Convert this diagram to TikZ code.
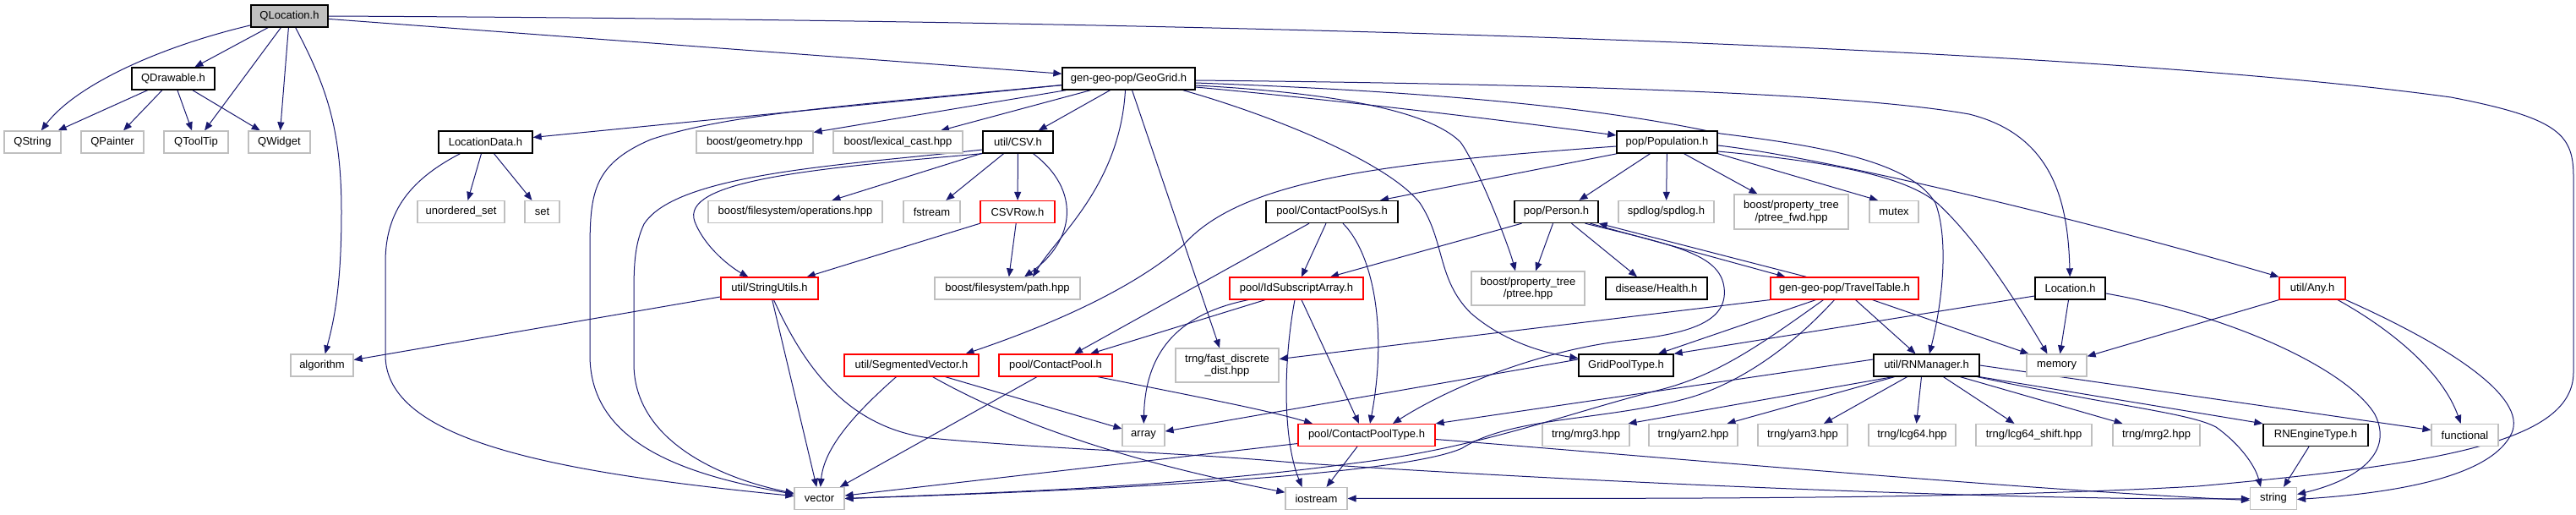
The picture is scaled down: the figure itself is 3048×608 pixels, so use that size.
\documentclass[tikz,border=0pt]{standalone}
\usepackage{fontspec}
\setmainfont{Liberation Sans}
\usetikzlibrary{arrows.meta}
\definecolor{edgeblue}{HTML}{191970}
\definecolor{extgray}{HTML}{BFBFBF}
\definecolor{truncred}{HTML}{FF0000}
\definecolor{rootgray}{HTML}{BFBFBF}
\pgfdeclarelayer{bg}
\pgfsetlayers{bg,main}
\begin{document}
\begin{tikzpicture}[x=1pt,y=-1pt,
  bx/.style={draw, rectangle, inner sep=0pt, minimum height=26pt, fill=white, align=center, font=\fontsize{13}{14.5}\selectfont},
  bdoc/.style={bx, draw=black, line width=1.35pt},
  bext/.style={bx, draw=extgray, line width=1.2pt},
  btrunc/.style={bx, draw=truncred, line width=1.2pt},
  broot/.style={bx, draw=black, line width=1.35pt, fill=rootgray},
  dep/.style={draw=edgeblue, line width=1pt, -{Triangle[length=10pt,width=8pt]}}]
\useasboundingbox (0,0) rectangle (3048,608);
% nodes
\node[broot, minimum width=91pt] (QLocation) at (342.5,19) {QLocation.h};
\node[bdoc, minimum width=98pt] (QDrawable) at (205,93) {QDrawable.h};
\node[bext, minimum width=67pt] (QString) at (38.5,168) {QString};
\node[bext, minimum width=74pt] (QPainter) at (133,168) {QPainter};
\node[bext, minimum width=76pt] (QToolTip) at (232,168) {QToolTip};
\node[bext, minimum width=73pt] (QWidget) at (330.5,168) {QWidget};
\node[bdoc, minimum width=157pt] (GeoGrid) at (1335.5,93) {gen-geo-pop/GeoGrid.h};
\node[bdoc, minimum width=111pt] (LocationData) at (574.5,168) {LocationData.h};
\node[bext, minimum width=138pt] (geometry) at (893,168) {boost/geometry.hpp};
\node[bext, minimum width=153pt] (lexical) at (1062.5,168) {boost/lexical\_cast.hpp};
\node[bdoc, minimum width=83pt] (CSV) at (1204.5,168) {util/CSV.h};
\node[bdoc, minimum width=119pt] (Population) at (1972.5,168) {pop/Population.h};
\node[bext, minimum width=103pt] (unordered) at (545.5,250.5) {unordered\_set};
\node[bext, minimum width=41pt] (set) at (641.5,250.5) {set};
\node[bext, minimum width=206pt] (operations) at (941,250.5) {boost/filesystem/operations.hpp};
\node[bext, minimum width=67pt] (fstream) at (1102.5,250.5) {fstream};
\node[btrunc, minimum width=88pt] (CSVRow) at (1204,250.5) {CSVRow.h};
\node[bdoc, minimum width=156pt] (CPSys) at (1576,250.5) {pool/ContactPoolSys.h};
\node[bdoc, minimum width=99pt] (Person) at (1841.5,250.5) {pop/Person.h};
\node[bext, minimum width=113pt] (spdlog) at (1971.5,250.5) {spdlog/spdlog.h};
\node[bext, minimum width=135pt, minimum height=41pt] (ptreefwd) at (2119.5,250.5) {boost/property\_tree\\/ptree\_fwd.hpp};
\node[bext, minimum width=58pt] (mutex) at (2241,250.5) {mutex};
\node[btrunc, minimum width=115pt] (StringUtils) at (910.5,341) {util/StringUtils.h};
\node[bext, minimum width=172pt] (path) at (1192,341) {boost/filesystem/path.hpp};
\node[btrunc, minimum width=158pt] (IdSub) at (1534,341) {pool/IdSubscriptArray.h};
\node[bext, minimum width=134pt, minimum height=40pt] (ptree) at (1808,341) {boost/property\_tree\\/ptree.hpp};
\node[bdoc, minimum width=120pt] (Health) at (1960,341) {disease/Health.h};
\node[btrunc, minimum width=175pt] (TravelTable) at (2182.5,341) {gen-geo-pop/TravelTable.h};
\node[bdoc, minimum width=83pt] (Location) at (2449.5,341) {Location.h};
\node[btrunc, minimum width=78pt] (Any) at (2736,341) {util/Any.h};
\node[bext, minimum width=74pt] (algorithm) at (381,432) {algorithm};
\node[btrunc, minimum width=159pt] (SegVec) at (1078.5,432) {util/SegmentedVector.h};
\node[btrunc, minimum width=134pt] (ContactPool) at (1249,432) {pool/ContactPool.h};
\node[bext, minimum width=122pt, minimum height=40pt] (fastdd) at (1452,432) {trng/fast\_discrete\\\_dist.hpp};
\node[bdoc, minimum width=112pt] (GridPoolType) at (1924,432) {GridPoolType.h};
\node[bdoc, minimum width=125pt] (RNManager) at (2279.5,432) {util/RNManager.h};
\node[bext, minimum width=71pt] (memory) at (2433.5,432) {memory};
\node[bext, minimum width=50pt] (array) at (1353,514.5) {array};
\node[btrunc, minimum width=162pt] (CPType) at (1617,514.5) {pool/ContactPoolType.h};
\node[bext, minimum width=103pt] (mrg3) at (1876.5,514.5) {trng/mrg3.hpp};
\node[bext, minimum width=105pt] (yarn2) at (2003.5,514.5) {trng/yarn2.hpp};
\node[bext, minimum width=106pt] (yarn3) at (2133,514.5) {trng/yarn3.hpp};
\node[bext, minimum width=103pt] (lcg64) at (2262.5,514.5) {trng/lcg64.hpp};
\node[bext, minimum width=137pt] (lcg64s) at (2406.5,514.5) {trng/lcg64\_shift.hpp};
\node[bext, minimum width=103pt] (mrg2) at (2551.5,514.5) {trng/mrg2.hpp};
\node[bdoc, minimum width=124pt] (RNEngine) at (2740,514.5) {RNEngineType.h};
\node[bext, minimum width=79pt] (functional) at (2916.5,514.5) {functional};
\node[bext, minimum width=59pt] (vector) at (969.5,589.5) {vector};
\node[bext, minimum width=73pt] (iostream) at (1557.5,589.5) {iostream};
\node[bext, minimum width=55pt] (string) at (2690,589.5) {string};
% edges
\begin{pgfonlayer}{bg}
\fill[white] (0,0) rectangle (3048,608);
% QLocation
\draw[dep] (QLocation) .. controls (190,55) and (90,100) .. (QString);
\draw[dep] (QLocation) -- (QDrawable);
\draw[dep] (QLocation) -- (QToolTip);
\draw[dep] (QLocation) -- (QWidget);
\draw[dep] (QLocation) .. controls (385,100) and (404,150) .. (404,250) .. controls (404,340) and (395,380) .. (algorithm);
\draw[dep] (QLocation) -- (GeoGrid);
\draw[dep] (QLocation.east) .. controls (1600,25) and (2500,60) .. (2900,115) .. controls (3030,140) and (3045,160) .. (3045,210) -- (3045,440) .. controls (3045,520) and (2900,548) .. (2600,575) .. controls (2300,592) and (1900,589) .. (iostream.east);
% QDrawable
\draw[dep] (QDrawable) -- (QString);
\draw[dep] (QDrawable) -- (QPainter);
\draw[dep] (QDrawable) -- (QToolTip);
\draw[dep] (QDrawable) -- (QWidget);
% GeoGrid
\draw[dep] (GeoGrid) -- (LocationData);
\draw[dep] (GeoGrid) .. controls (1000,125) and (860,135) .. (770,165) .. controls (700,195) and (698,230) .. (698,300) -- (698,420) .. controls (698,520) and (800,560) .. (vector);
\draw[dep] ([xshift=5pt]GeoGrid.south west) -- (geometry);
\draw[dep] ([xshift=-45pt]GeoGrid.south) -- (lexical);
\draw[dep] ([xshift=-22pt]GeoGrid.south) -- (CSV);
\draw[dep] ([yshift=-10pt]GeoGrid.east) .. controls (1600,120) and (1800,145) .. (Population);
\draw[dep] ([yshift=-2pt]GeoGrid.east) .. controls (1900,100) and (2200,112) .. (2330,135) .. controls (2430,160) and (2447,240) .. (Location);
\draw[dep] ([yshift=-5pt]GeoGrid.east) .. controls (1800,112) and (1950,140) .. (2036,158) .. controls (2150,172) and (2260,190) .. (2290,240) .. controls (2305,280) and (2300,350) .. (RNManager);
\draw[dep] ([xshift=-4pt]GeoGrid.south) .. controls (1325,220) and (1250,280) .. ([xshift=30pt]path.north);
\draw[dep] ([xshift=4pt]GeoGrid.south) -- ([xshift=-9pt]fastdd.north);
\draw[dep] ([yshift=-8pt]GeoGrid.east) .. controls (1620,112) and (1700,140) .. (1728,168) .. controls (1748,195) and (1785,290) .. ([xshift=-15pt]ptree.north);
\draw[dep] ([xshift=-15pt]GeoGrid.south east) .. controls (1500,135) and (1640,190) .. (1680,240) .. controls (1710,285) and (1700,330) .. (1740,370) .. controls (1780,405) and (1830,418) .. (GridPoolType);
% CSV
\draw[dep] ([yshift=-9pt]CSV.west) .. controls (1000,195) and (800,205) .. (762,265) .. controls (750,290) and (750,320) .. (750,350) -- (750,430) .. controls (750,520) and (850,565) .. (vector);
\draw[dep] (CSV.south west) .. controls (950,200) and (805,215) .. (822,262) .. controls (835,295) and (868,318) .. (StringUtils);
\draw[dep] (CSV) -- (operations);
\draw[dep] (CSV) -- (fstream);
\draw[dep] (CSV) -- (CSVRow);
\draw[dep] ([xshift=18pt]CSV.south) .. controls (1280,225) and (1272,285) .. ([xshift=20pt]path.north);
\draw[dep] (CSVRow) -- (StringUtils);
\draw[dep] (CSVRow) -- (path);
% StringUtils
\draw[dep] (StringUtils) -- (algorithm);
\draw[dep] (StringUtils) -- (vector);
\draw[dep] ([xshift=5pt]StringUtils.south) .. controls (950,430) and (1000,505) .. (1100,518) .. controls (1250,532) and (1400,535) .. (1530,547) .. controls (1900,572) and (2400,592) .. (string);
% SegmentedVector
\draw[dep] ([xshift=-18pt]SegVec.south) .. controls (1010,490) and (975,530) .. (vector);
\draw[dep] ([xshift=40pt]SegVec.south) -- (array);
\draw[dep] ([xshift=25pt]SegVec.south) .. controls (1200,500) and (1330,545) .. (iostream);
% ContactPool
\draw[dep] ([xshift=-22pt]ContactPool.south) -- (vector);
\draw[dep] ([xshift=50pt]ContactPool.south) .. controls (1420,470) and (1500,485) .. ([xshift=-64pt]CPType.north);
% IdSubscriptArray
\draw[dep] ([xshift=-37pt]IdSub.south) -- ([xshift=41pt]ContactPool.north);
\draw[dep] ([xshift=-57pt]IdSub.south) .. controls (1390,372) and (1355,420) .. (array);
\draw[dep] ([xshift=-2pt]IdSub.south) .. controls (1518,430) and (1518,520) .. ([xshift=-17pt]iostream.north);
\draw[dep] ([xshift=6pt]IdSub.south) -- ([xshift=-9pt]CPType.north);
% ContactPoolSys
\draw[dep] ([xshift=-7pt]CPSys.south) -- ([xshift=6pt]IdSub.north);
\draw[dep] ([xshift=-27pt]CPSys.south) -- ([xshift=22pt]ContactPool.north);
\draw[dep] ([xshift=13pt]CPSys.south) .. controls (1625,300) and (1642,390) .. ([xshift=4pt]CPType.north);
% Population
\draw[dep] ([yshift=-5pt]Population.west) .. controls (1650,192) and (1470,210) .. (1400,290) .. controls (1330,350) and (1220,392) .. ([xshift=64pt]SegVec.north);
\draw[dep] ([xshift=-59pt]Population.south) -- ([xshift=57pt]CPSys.north);
\draw[dep] ([xshift=-20pt]Population.south) -- ([xshift=27pt]Person.north);
\draw[dep] (Population) -- (spdlog);
\draw[dep] ([xshift=20pt]Population.south) -- ([xshift=-40pt]ptreefwd.north);
\draw[dep] (Population.south east) -- ([xshift=-19pt]mutex.north);
\draw[dep] ([yshift=-11pt]Population.east) .. controls (2150,190) and (2250,205) .. (2292,240) .. controls (2330,275) and (2370,330) .. ([xshift=-11pt]memory.north);
\draw[dep] ([yshift=-4pt]Population.east) .. controls (2150,185) and (2450,255) .. (Any.north west);
% Person
\draw[dep] ([xshift=-41pt]Person.south) -- ([xshift=40pt]IdSub.north);
\draw[dep] ([xshift=-4pt]Person.south) -- ([xshift=9pt]ptree.north);
\draw[dep] ([xshift=18pt]Person.south) -- ([xshift=-23pt]Health.north);
\draw[dep] ([xshift=40pt]Person.south) -- ([xshift=-70pt]TravelTable.north);
\draw[dep] ([xshift=34pt]Person.south) .. controls (1980,290) and (2035,300) .. (2040,340) .. controls (2045,380) and (2000,394) .. (1930,402) .. controls (1830,412) and (1720,455) .. ([xshift=31pt]CPType.north);
% TravelTable
\draw[dep] ([xshift=-45pt]TravelTable.north) -- (Person.south east);
\draw[dep] (TravelTable.south west) -- (fastdd);
\draw[dep] ([xshift=-34pt]TravelTable.south) -- ([xshift=38pt]GridPoolType.north);
\draw[dep] ([xshift=13pt]TravelTable.south) -- ([xshift=-13pt]RNManager.north);
\draw[dep] ([xshift=33pt]TravelTable.south) -- ([xshift=-33pt]memory.north);
\draw[dep] ([xshift=-25pt]TravelTable.south) .. controls (2080,410) and (2030,445) .. (1960,462) .. controls (1850,490) and (1750,530) .. (1600,548) .. controls (1400,575) and (1200,582) .. (vector.east);
\draw[dep] ([xshift=-12pt]TravelTable.south) .. controls (2120,410) and (2060,452) .. (2000,470) .. controls (1900,498) and (1790,492) .. (1730,530) .. controls (1660,562) and (1300,580) .. (vector.east);
% Location
\draw[dep] ([yshift=-9pt]Location.west) -- (GridPoolType.north east);
\draw[dep] ([xshift=-2pt]Location.south) -- ([xshift=4pt]memory.north);
\draw[dep] ([yshift=-6pt]Location.east) .. controls (2650,375) and (2780,440) .. (2810,490) .. controls (2835,540) and (2780,570) .. ([yshift=5pt]string.east);
% Any
\draw[dep] (Any.south west) -- (memory);
\draw[dep] ([xshift=30pt]Any.south) .. controls (2830,390) and (2890,440) .. (functional);
\draw[dep] (Any.south east) .. controls (2900,410) and (2990,470) .. (2972,512) .. controls (2950,560) and (2850,582) .. ([yshift=-1pt]string.east);
% RNManager
\draw[dep] ([yshift=7pt]RNManager.west) -- (CPType.north east);
\draw[dep] ([xshift=-40pt]RNManager.south) -- ([xshift=50pt]mrg3.north);
\draw[dep] ([xshift=-38pt]RNManager.south) -- ([xshift=40pt]yarn2.north);
\draw[dep] ([xshift=-23pt]RNManager.south) -- ([xshift=25pt]yarn3.north);
\draw[dep] ([xshift=-6pt]RNManager.south) -- ([xshift=5pt]lcg64.north);
\draw[dep] ([xshift=20pt]RNManager.south) -- ([xshift=-23pt]lcg64s.north);
\draw[dep] ([xshift=40pt]RNManager.south) -- ([xshift=-40pt]mrg2.north);
\draw[dep] (RNManager.south east) -- (RNEngine.north west);
\draw[dep] (RNManager.east) -- ([yshift=6pt]functional.west);
\draw[dep] ([xshift=-3pt]RNManager.south east) .. controls (2500,480) and (2590,488) .. (2622,505) .. controls (2650,525) and (2668,550) .. ([xshift=-15pt]string.north);
\draw[dep] ([xshift=-8pt]RNEngine.south) -- ([xshift=12pt]string.north);
% GridPoolType
\draw[dep] ([yshift=7pt]GridPoolType.west) -- (array);
% ContactPoolType
\draw[dep] ([yshift=-10pt]CPType.west) -- (vector);
\draw[dep] ([xshift=-11pt]CPType.south) -- ([xshift=12pt]iostream.north);
\draw[dep] ([yshift=-5pt]CPType.east) .. controls (1900,535) and (2400,580) .. ([yshift=-2pt]string.west);
% LocationData
\draw[dep] ([xshift=-5pt]LocationData.south) -- ([xshift=8pt]unordered.north);
\draw[dep] ([xshift=10pt]LocationData.south) -- ([xshift=-12pt]set.north);
\draw[dep] ([xshift=-30pt]LocationData.south) .. controls (480,215) and (456,255) .. (456,310) -- (456,420) .. controls (456,520) and (650,558) .. (vector);
\end{pgfonlayer}
\end{tikzpicture}
\end{document}
